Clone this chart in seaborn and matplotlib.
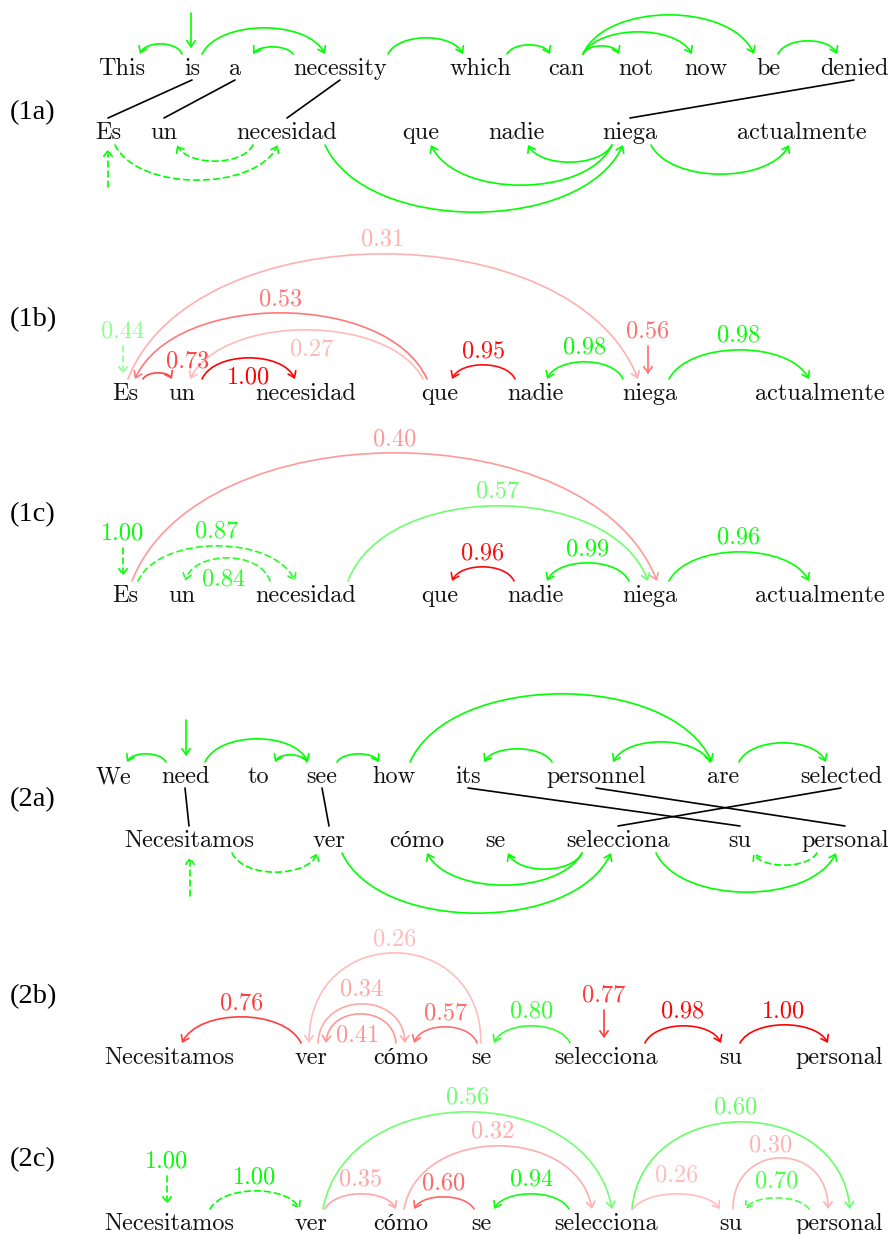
import numpy as np
import matplotlib
matplotlib.use("Agg")
import matplotlib.pyplot as plt
from matplotlib.patches import FancyArrowPatch
from matplotlib.path import Path
from matplotlib.colors import to_rgb
import seaborn as sns

sns.set_theme(style="white")
plt.rcParams['font.family'] = ['cmr10', 'Liberation Serif']
plt.rcParams['axes.unicode_minus'] = False

# ---------------- data ----------------
# sentence 1
en1 = ["This", "is", "a", "necessity", "which", "can", "not", "now", "be", "denied"]
es1 = ["Es", "un", "necesidad", "que", "nadie", "niega", "actualmente"]
en1_arcs = [(1, 0), (1, 3), (3, 2), (3, 4), (4, 5), (5, 6), (5, 7), (5, 8), (8, 9)]
en1_root = 1
es1a_arcs = [(0, 2), (2, 1), (2, 5), (5, 3), (5, 4), (5, 6)]
es1a_dashed = [True, True, False, False, False, False]
es1a_root = 0
align1 = [(1, 0), (2, 1), (3, 2), (9, 5)]

arcs1b = [(0, 1), (1, 2), (3, 0), (3, 1), (0, 5), (4, 3), (5, 4), (5, 6)]
score1b = [0.73, 1.00, 0.53, 0.27, 0.31, 0.95, 0.98, 0.98]
ok1b = [False, False, False, False, False, False, True, True]
dash1b = [False] * 8
roots1b = [(0, 0.44, True, True), (5, 0.56, False, False)]

arcs1c = [(0, 2), (2, 1), (0, 5), (2, 5), (4, 3), (5, 4), (5, 6)]
score1c = [0.87, 0.84, 0.40, 0.57, 0.96, 0.99, 0.96]
ok1c = [True, True, False, True, False, True, True]
dash1c = [True, True, False, False, False, False, False]
roots1c = [(0, 1.00, True, True)]

# sentence 2
en2 = ["We", "need", "to", "see", "how", "its", "personnel", "are", "selected"]
es2 = ["Necesitamos", "ver", "cómo", "se", "selecciona", "su", "personal"]
en2_arcs = [(1, 0), (1, 3), (3, 2), (3, 4), (4, 7), (6, 5), (7, 6), (7, 8)]
en2_root = 1
es2a_arcs = [(0, 1), (1, 4), (4, 2), (4, 3), (4, 6), (6, 5)]
es2a_dashed = [True, False, False, False, False, True]
es2a_root = 0
align2 = [(1, 0), (3, 1), (5, 5), (6, 6), (8, 4)]

arcs2b = [(1, 0), (3, 1), (1, 2), (2, 1), (3, 2), (4, 3), (4, 5), (5, 6)]
score2b = [0.76, 0.26, 0.34, 0.41, 0.57, 0.80, 0.98, 1.00]
ok2b = [False, False, False, False, False, True, False, False]
dash2b = [False] * 8
roots2b = [(4, 0.77, False, False)]

arcs2c = [(0, 1), (1, 4), (1, 2), (2, 4), (3, 2), (4, 3), (4, 6), (4, 5), (5, 6), (6, 5)]
score2c = [1.00, 0.56, 0.35, 0.32, 0.60, 0.94, 0.60, 0.26, 0.30, 0.70]
ok2c = [True, True, False, False, False, True, True, False, False, True]
dash2c = [True, False, False, False, False, False, False, False, False, True]
roots2c = [(0, 1.00, True, True)]

# ---------------- layout ----------------
en1_x = [122, 192, 235, 340, 480, 566, 636, 706, 768, 854]
es1a_x = [108, 164, 287, 421, 516, 630, 802]
es1bc_x = [125, 182, 306, 440, 535, 650, 820]
en2_x = [113, 185, 258, 322, 394, 468, 596, 723, 841]
es2a_x = [189, 329, 417, 495, 618, 740, 845]
es2bc_x = [169, 311, 401, 481, 606, 731, 839]

# (start offset, end offset, height) per arc
geo_en1 = [(-10, 18, 10), (10, -15, 26), (-47, 18, 7), (48, -17, 16), (27, -16, 9),
           (17, -17, 8), (17, -14, 22), (17, -14, 39), (10, -17, 13)]
geo_es1a = [(7, -9, 35), (-34, 13, 16), (38, -7, 67), (-18, 10, 40), (-18, 12, 17), (21, -13, 29)]
geo_1b = [(18, -10, 6), (20, -11, 21), (-13, 10, 66), (-17, 8, 49), (3, -12, 125),
          (-20, 12, 14), (-27, 12, 17), (19, -11, 29)]
lab_1b = {0: (30, -14), 1: (0, 17), 3: (5, 18)}
geo_1c = [(13, -11, 35), (-36, 3, 23), (7, 7, 128), (42, -2, 75), (-21, 12, 14),
          (-21, 12, 18), (19, -11, 29)]
lab_1c = {1: (-4, 19)}
geo_en2 = [(-19, 14, 8), (20, -14, 23), (-15, 17, 7), (15, -15, 8), (16, -11, 68),
           (-44, 16, 13), (-13, 17, 20), (16, -15, 19)]
geo_es2a = [(43, -11, 19), (13, -7, 60), (-36, 10, 32), (-36, 13, 16), (38, -9, 39), (-28, 13, 12)]
geo_2b = [(-10, 13, 26), (0, -2, 90), (7, 4, 39), (-5, 15, 29), (-4, 13, 16),
          (-36, 13, 17), (39, -10, 17), (9, -11, 18)]
lab_2b = {3: (-3, 19)}
geo_2c = [(41, -11, 18), (12, 6, 97), (14, -5, 15), (3, -14, 63), (-7, 13, 12),
          (-37, 13, 15), (26, 11, 87), (27, -11, 15), (2, -11, 51), (-30, 14, 11)]
lab_2c = {3: (-5, -17), 6: (-5, -16), 7: (0, -20), 8: (-10, -15), 9: (0, -19)}

GREEN = "#00ff00"
RED = "#ff0000"
FS = 17.5
LW = 1.2
WORD_FONT = ['cmr10', 'Liberation Serif']
HEAD = '->,head_length=0.42,head_width=0.3'


def shade(base, s):
    r, g, b = to_rgb(base)
    return (1 - s * (1 - r), 1 - s * (1 - g), 1 - s * (1 - b))


def linestyle(dashed):
    return (0, (3.5, 2.5)) if dashed else '-'


def arc(ax, xa, xb, y0, h, col, dashed, below=False):
    w = abs(xb - xa)
    s = 1 if xb > xa else -1
    c = float(np.clip(0.25 - 0.5 * h / w, 0, 0.25))
    v = 4 * h / 3 * (1 if below else -1)
    verts = [(xa, y0), (xa + s * c * w, y0 + v), (xb - s * c * w, y0 + v), (xb, y0)]
    p = Path(verts, [Path.MOVETO, Path.CURVE4, Path.CURVE4, Path.CURVE4])
    ax.add_patch(FancyArrowPatch(path=p, arrowstyle=HEAD, mutation_scale=10,
                                 color=col, lw=LW, linestyle=linestyle(dashed)))


def vline_arrow(ax, x, y_from, y_to, col, dashed):
    p = Path([(x, y_from), (x, y_to)], [Path.MOVETO, Path.LINETO])
    ax.add_patch(FancyArrowPatch(path=p, arrowstyle=HEAD, mutation_scale=10,
                                 color=col, lw=LW, linestyle=linestyle(dashed)))


def words_row(ax, words, xs, base):
    for w, x in zip(words, xs):
        ax.text(x, base, w, ha='center', va='baseline', fontsize=FS, family=WORD_FONT, color='#111111')


def gold_arcs(ax, xs, base, arcs, geo, dashed=None, below=False):
    y0 = base + 6 if below else base - 21
    for k, (hd, dp) in enumerate(arcs):
        da, db, h = geo[k]
        d = dashed[k] if dashed else False
        arc(ax, xs[hd] + da, xs[dp] + db, y0, h, GREEN, d, below)


def scored_arcs(ax, xs, base, arcs, geo, scores, ok, dashed, labs, roots):
    y0 = base - 21
    for k, (hd, dp) in enumerate(arcs):
        da, db, h = geo[k]
        col = shade(GREEN if ok[k] else RED, scores[k])
        xa, xb = xs[hd] + da, xs[dp] + db
        arc(ax, xa, xb, y0, h, col, dashed[k])
        ldx, ldy = labs.get(k, (0, -16))
        ax.text((xa + xb) / 2 + ldx, y0 - h + ldy + 8, f"{scores[k]:.2f}", ha='center',
                va='baseline', fontsize=FS, family=WORD_FONT, color=col)
    for idx, sc, good, d in roots:
        col = shade(GREEN if good else RED, sc)
        x = xs[idx] - 2
        vline_arrow(ax, x, base - 54, base - 26, col, d)
        ax.text(x, base - 54 - 16 + 8, f"{sc:.2f}", ha='center', va='baseline',
                fontsize=FS, family=WORD_FONT, color=col)


def alignments(ax, en_x, en_base, es_x, es_base, pairs):
    for e, s in pairs:
        ax.plot([en_x[e], es_x[s]], [en_base + 5, es_base - 21], color='black', lw=LW)


fig = plt.figure(figsize=(8.94, 12.34), dpi=100)
ax = fig.add_axes([0, 0, 1, 1])
ax.set_xlim(0, 894)
ax.set_ylim(1234, 0)
ax.axis('off')

# (1a)
b_en, b_es = 75, 139
words_row(ax, en1, en1_x, b_en)
words_row(ax, es1, es1a_x, b_es)
gold_arcs(ax, en1_x, b_en, en1_arcs, geo_en1)
gold_arcs(ax, es1a_x, b_es, es1a_arcs, geo_es1a, es1a_dashed, below=True)
vline_arrow(ax, en1_x[en1_root] - 1, b_en - 62, b_en - 27, GREEN, False)
vline_arrow(ax, es1a_x[es1a_root], b_es + 48, b_es + 10, GREEN, True)
alignments(ax, en1_x, b_en, es1a_x, b_es, align1)

# (1b), (1c)
words_row(ax, es1, es1bc_x, 400)
scored_arcs(ax, es1bc_x, 400, arcs1b, geo_1b, score1b, ok1b, dash1b, lab_1b, roots1b)
words_row(ax, es1, es1bc_x, 602)
scored_arcs(ax, es1bc_x, 602, arcs1c, geo_1c, score1c, ok1c, dash1c, lab_1c, roots1c)

# (2a)
b_en, b_es = 783, 847
words_row(ax, en2, en2_x, b_en)
words_row(ax, es2, es2a_x, b_es)
gold_arcs(ax, en2_x, b_en, en2_arcs, geo_en2)
gold_arcs(ax, es2a_x, b_es, es2a_arcs, geo_es2a, es2a_dashed, below=True)
vline_arrow(ax, en2_x[en2_root] + 1, b_en - 63, b_en - 27, GREEN, False)
vline_arrow(ax, es2a_x[es2a_root] + 1, b_es + 49, b_es + 10, GREEN, True)
alignments(ax, en2_x, b_en, es2a_x, b_es, align2)

# (2b), (2c)
words_row(ax, es2, es2bc_x, 1064)
scored_arcs(ax, es2bc_x, 1064, arcs2b, geo_2b, score2b, ok2b, dash2b, lab_2b, roots2b)
words_row(ax, es2, es2bc_x, 1230)
scored_arcs(ax, es2bc_x, 1230, arcs2c, geo_2c, score2c, ok2c, dash2c, lab_2c, roots2c)

panel_names = ["(1a)", "(1b)", "(1c)", "(2a)", "(2b)", "(2c)"]
panel_y = [113, 320, 515, 800, 997, 1160]
for name, y in zip(panel_names, panel_y):
    ax.text(33, y, name, ha='center', va='center', fontsize=20.5, family=['Liberation Serif'], color='black')

fig.savefig("out.png", dpi=100)
